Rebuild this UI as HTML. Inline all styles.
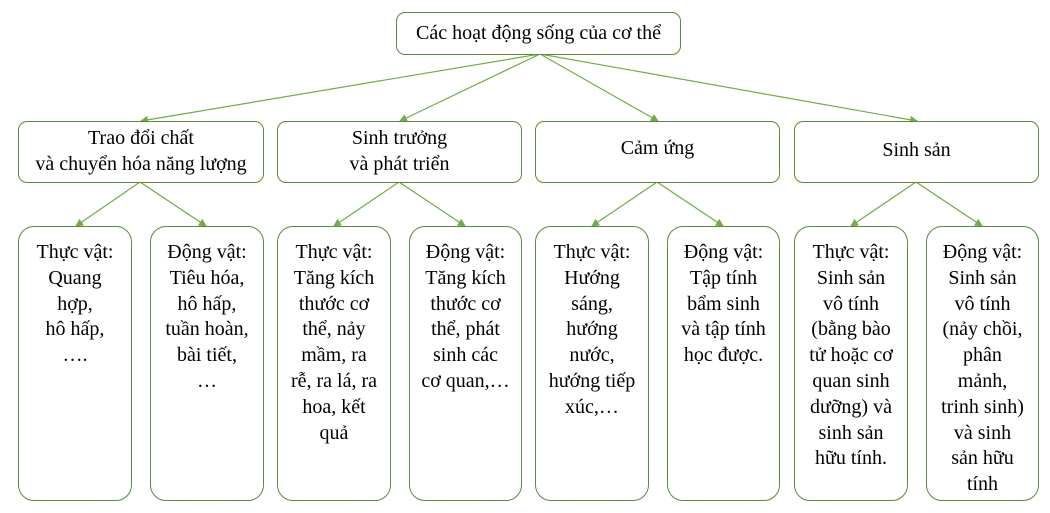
<!DOCTYPE html>
<html><head><meta charset="utf-8"><style>
body{margin:0;width:1050px;height:513px;background:#fff;position:relative;overflow:hidden;font-family:"Liberation Serif",serif;color:#000}
.b{position:absolute;box-sizing:border-box;border:1.3px solid #5b8a3a;border-radius:9px;text-align:center;font-size:20px;line-height:25.8px;background:#fff}
.s{border-radius:16px;padding-top:13px;height:275px;top:226px;width:114px}
svg{position:absolute;left:0;top:0}
</style></head><body>
<svg width="1050" height="513"><defs><marker id="a" markerWidth="8" markerHeight="8" refX="7" refY="4" orient="auto" markerUnits="userSpaceOnUse"><path d="M0,0 L8,4 L0,8z" fill="#70ad47"/></marker></defs>
<g stroke="#70ad47" stroke-width="1.2" fill="none" marker-end="url(#a)">
<line x1="540" y1="54" x2="141" y2="121"/><line x1="540" y1="54" x2="400" y2="121"/><line x1="540" y1="54" x2="658" y2="121"/><line x1="540" y1="54" x2="917" y2="121"/>
<line x1="140" y1="182" x2="76" y2="226"/><line x1="140" y1="182" x2="206" y2="226"/>
<line x1="399" y1="182" x2="334" y2="226"/><line x1="399" y1="182" x2="465" y2="226"/>
<line x1="657" y1="182" x2="592" y2="226"/><line x1="657" y1="182" x2="723" y2="226"/>
<line x1="916" y1="182" x2="851" y2="226"/><line x1="916" y1="182" x2="982" y2="226"/>
</g></svg>
<div class="b" style="left:396px;top:12px;width:285px;height:43px;line-height:40px">Các hoạt động sống của cơ thể</div>
<div class="b" style="left:18px;top:121px;width:246px;height:62px;padding-top:4px">Trao đổi chất<br>và chuyển hóa năng lượng</div>
<div class="b" style="left:277px;top:121px;width:245px;height:62px;padding-top:4px">Sinh trưởng<br>và phát triển</div>
<div class="b" style="left:535px;top:121px;width:245px;height:62px;line-height:52px">Cảm ứng</div>
<div class="b" style="left:794px;top:121px;width:245px;height:62px;line-height:56px">Sinh sản</div>
<div class="b s" style="left:18px">Thực vật:<br>Quang<br>hợp,<br>hô hấp,<br>….</div>
<div class="b s" style="left:150px">Động vật:<br>Tiêu hóa,<br>hô hấp,<br>tuần hoàn,<br>bài tiết,<br>…</div>
<div class="b s" style="left:277px">Thực vật:<br>Tăng kích<br>thước cơ<br>thể, nảy<br>mầm, ra<br>rễ, ra lá, ra<br>hoa, kết<br>quả</div>
<div class="b s" style="left:409px;width:113px">Động vật:<br>Tăng kích<br>thước cơ<br>thể, phát<br>sinh các<br>cơ quan,…</div>
<div class="b s" style="left:535px">Thực vật:<br>Hướng<br>sáng,<br>hướng<br>nước,<br>hướng tiếp<br>xúc,…</div>
<div class="b s" style="left:667px;width:113px">Động vật:<br>Tập tính<br>bẩm sinh<br>và tập tính<br>học được.</div>
<div class="b s" style="left:794px">Thực vật:<br>Sinh sản<br>vô tính<br>(bằng bào<br>tử hoặc cơ<br>quan sinh<br>dưỡng) và<br>sinh sản<br>hữu tính.</div>
<div class="b s" style="left:926px;width:113px">Động vật:<br>Sinh sản<br>vô tính<br>(nảy chồi,<br>phân<br>mảnh,<br>trinh sinh)<br>và sinh<br>sản hữu<br>tính</div>
</body></html>
